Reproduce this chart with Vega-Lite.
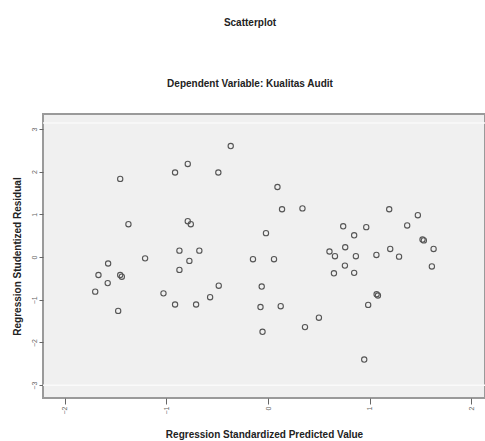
{
  "$schema": "https://vega.github.io/schema/vega-lite/v6.json",
  "autosize": "none",
  "width": 442,
  "height": 284,
  "padding": {"left": 43, "top": 114, "right": 0, "bottom": 43},
  "background": "white",
  "title": {
    "text": "Scatterplot",
    "subtitle": "Dependent Variable: Kualitas Audit",
    "font": "Liberation Sans",
    "fontSize": 10,
    "fontWeight": "bold",
    "color": "#222",
    "subtitleFont": "Liberation Sans",
    "subtitleFontSize": 10,
    "subtitleFontWeight": "bold",
    "subtitleColor": "#222",
    "subtitlePadding": 51,
    "offset": 25,
    "anchor": "middle",
    "dx": -14
  },
  "layer": [
    {
      "data": {"values": [{"y": 3.14}, {"y": -3.0}]},
      "mark": {"type": "rule", "stroke": "#fafafa", "strokeWidth": 1.5},
      "encoding": {
        "y": {"field": "y", "type": "quantitative"}
      }
    },
    {
      "data": {
        "values": [
          {"x": -1.455, "y": 1.83}, {"x": -1.374, "y": 0.77}, {"x": -0.915, "y": 1.98},
          {"x": -0.79, "y": 2.18}, {"x": -0.489, "y": 1.98}, {"x": -0.367, "y": 2.6},
          {"x": -0.79, "y": 0.84}, {"x": -0.76, "y": 0.77}, {"x": -0.872, "y": 0.15},
          {"x": -0.676, "y": 0.15}, {"x": -1.21, "y": -0.03}, {"x": -0.774, "y": -0.09},
          {"x": -0.148, "y": -0.05}, {"x": -1.574, "y": -0.15}, {"x": -1.669, "y": -0.42},
          {"x": -1.455, "y": -0.42}, {"x": -1.439, "y": -0.46}, {"x": -1.578, "y": -0.61},
          {"x": -0.872, "y": -0.3}, {"x": -1.701, "y": -0.81}, {"x": -1.475, "y": -1.26},
          {"x": -1.029, "y": -0.85}, {"x": -0.915, "y": -1.11}, {"x": -0.708, "y": -1.11},
          {"x": -0.57, "y": -0.94}, {"x": -0.485, "y": -0.67}, {"x": -0.062, "y": -0.69},
          {"x": -0.074, "y": -1.17}, {"x": 0.125, "y": -1.15}, {"x": -0.054, "y": -1.75},
          {"x": 0.364, "y": -1.64}, {"x": 0.501, "y": -1.42}, {"x": 0.947, "y": -2.4},
          {"x": 0.093, "y": 1.64}, {"x": 0.138, "y": 1.12}, {"x": 0.339, "y": 1.14},
          {"x": -0.02, "y": 0.56}, {"x": 0.059, "y": -0.05}, {"x": 0.74, "y": 0.72},
          {"x": 0.848, "y": 0.51}, {"x": 0.967, "y": 0.7}, {"x": 1.193, "y": 1.12},
          {"x": 1.475, "y": 0.98}, {"x": 1.37, "y": 0.74}, {"x": 1.521, "y": 0.41},
          {"x": 1.534, "y": 0.39}, {"x": 1.63, "y": 0.19}, {"x": 1.613, "y": -0.22},
          {"x": 0.76, "y": 0.23}, {"x": 0.605, "y": 0.13}, {"x": 0.659, "y": 0.02},
          {"x": 0.865, "y": 0.02}, {"x": 1.067, "y": 0.05}, {"x": 1.203, "y": 0.19},
          {"x": 1.29, "y": 0.01}, {"x": 0.757, "y": -0.2}, {"x": 0.649, "y": -0.38},
          {"x": 0.848, "y": -0.37}, {"x": 1.069, "y": -0.87}, {"x": 1.082, "y": -0.9},
          {"x": 0.986, "y": -1.12}
        ]
      },
      "mark": {"type": "point", "shape": "circle", "filled": false, "size": 28, "stroke": "#555", "strokeWidth": 1.1, "opacity": 1},
      "encoding": {
        "x": {
          "field": "x", "type": "quantitative",
          "scale": {"domain": [-2.215, 2.136], "nice": false, "zero": false},
          "axis": {
            "title": "Regression Standardized Predicted Value",
            "values": [-2, -1, 0, 1, 2],
            "format": "d",
            "grid": false,
            "domain": false,
            "tickColor": "#666",
            "tickSize": 6,
            "labelAngle": -90,
            "labelFontSize": 7,
            "labelColor": "#666",
            "labelPadding": 2,
            "labelAlign": "right",
            "labelBaseline": "middle",
            "titleFont": "Liberation Sans",
            "titleFontSize": 10,
            "titleFontWeight": "bold",
            "titleColor": "#222",
            "titlePadding": 16
          }
        },
        "y": {
          "field": "y", "type": "quantitative",
          "scale": {"domain": [-3.3, 3.35], "nice": false, "zero": false},
          "axis": {
            "title": "Regression Studentized Residual",
            "values": [-3, -2, -1, 0, 1, 2, 3],
            "format": "d",
            "grid": false,
            "domain": false,
            "tickColor": "#666",
            "tickSize": 4,
            "labelAngle": -90,
            "labelFontSize": 7,
            "labelColor": "#666",
            "labelPadding": 2,
            "labelAlign": "center",
            "labelBaseline": "bottom",
            "titleFont": "Liberation Sans",
            "titleFontSize": 10,
            "titleFontWeight": "bold",
            "titleColor": "#222",
            "titlePadding": 8
          }
        }
      }
    }
  ],
  "config": {
    "view": {"fill": "#f0f0f0", "stroke": "#9a9a9a", "strokeWidth": 2}
  }
}
